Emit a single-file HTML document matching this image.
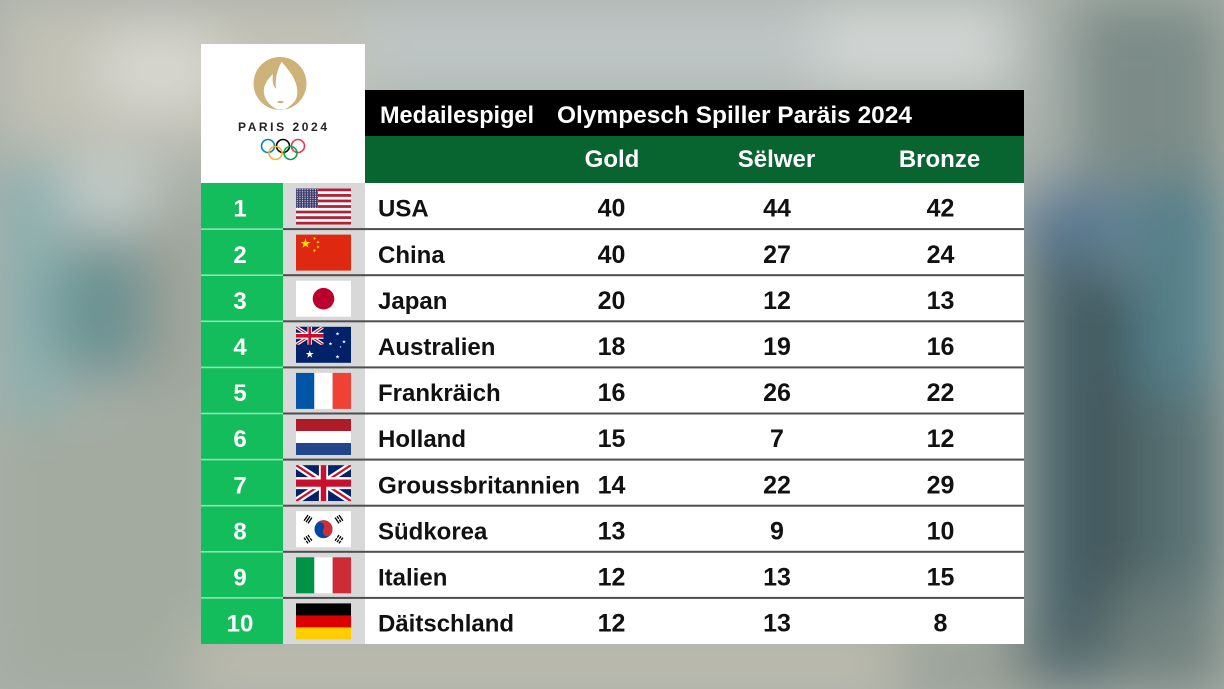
<!DOCTYPE html>
<html>
<head>
<meta charset="utf-8">
<style>
html,body{margin:0;padding:0;width:1224px;height:689px;overflow:hidden;}
body{background:#a9b0a9;}
svg{display:block;overflow:hidden;}
text{font-family:"Liberation Sans",Arial,sans-serif;}
</style>
</head>
<body>
<svg width="1224" height="689" viewBox="0 0 1224 689" xmlns="http://www.w3.org/2000/svg">
<defs>
  <filter id="blur" filterUnits="userSpaceOnUse" x="0" y="0" width="1224" height="689">
    <feGaussianBlur stdDeviation="28" edgeMode="duplicate"/>
  </filter>
  <polygon id="star" points="0,-1 0.2245,-0.309 0.951,-0.309 0.363,0.118 0.588,0.809 0,0.382 -0.588,0.809 -0.363,0.118 -0.951,-0.309 -0.2245,-0.309"/>
  <pattern id="usstars" x="0" y="0" width="2.6" height="2.2" patternUnits="userSpaceOnUse">
    <circle cx="1.3" cy="1.1" r="0.55" fill="#fff"/>
  </pattern>
  <g id="ukjack">
    <svg x="0" y="0" width="60" height="30" viewBox="0 0 60 30" preserveAspectRatio="none">
      <rect width="60" height="30" fill="#012169"/>
      <path d="M0,0 L60,30 M60,0 L0,30" stroke="#fff" stroke-width="6"/>
      <path d="M0,0 L60,30 M60,0 L0,30" stroke="#C8102E" stroke-width="2"/>
      <path d="M30,0 V30 M0,15 H60" stroke="#fff" stroke-width="10"/>
      <path d="M30,0 V30 M0,15 H60" stroke="#C8102E" stroke-width="6"/>
    </svg>
  </g>
</defs>

<!-- background -->
<rect x="0" y="0" width="1224" height="689" fill="#a9b0a9"/>
<g filter="url(#blur)">
  <rect x="0" y="0" width="1224" height="689" fill="#a9b0a9"/>
  <rect x="0" y="0" width="370" height="150" fill="#c2c1b5"/>
  <ellipse cx="160" cy="70" rx="70" ry="40" fill="#d8d8d2"/>
  <rect x="360" y="0" width="470" height="90" fill="#bec6c6"/>
  <rect x="820" y="0" width="200" height="90" fill="#d2d6d4"/>
  <rect x="1010" y="0" width="60" height="170" fill="#abb3ae"/>
  <rect x="1070" y="0" width="154" height="180" fill="#7b8b87"/>
  <ellipse cx="1075" cy="225" rx="65" ry="45" fill="#5c7b94"/>
  <rect x="1020" y="250" width="70" height="439" fill="#4c6870"/>
  <rect x="1085" y="270" width="45" height="419" fill="#3c4f53"/>
  <rect x="1130" y="180" width="94" height="210" fill="#55808a"/>
  <rect x="1130" y="390" width="94" height="200" fill="#577072"/>
  <rect x="1110" y="590" width="114" height="99" fill="#6f807d"/>
  <rect x="0" y="160" width="60" height="260" fill="#8ab0b0"/>
  <ellipse cx="110" cy="190" rx="50" ry="35" fill="#c3cdcb"/>
  <ellipse cx="105" cy="310" rx="55" ry="75" fill="#6a9292"/>
  <rect x="150" y="210" width="60" height="200" fill="#9ea398"/>
  <rect x="0" y="420" width="210" height="269" fill="#a3aa9f"/>
  <rect x="190" y="640" width="720" height="49" fill="#c1bdae"/>
  <rect x="900" y="640" width="130" height="49" fill="#949c92"/>
  <rect x="1020" y="640" width="90" height="49" fill="#5a6d70"/>
</g>

<!-- logo box -->
<rect x="201" y="44" width="164" height="139" fill="#ffffff"/>
<circle cx="280" cy="83.5" r="26.5" fill="#cdb27a"/>
<path d="M281.5,62 C291,72 299,83 297,96 C296,102 290,106 285,109.5 L277,109.5 C271,106 265,101 264,93 C263,85 268,79 273,74 C272,81 273,86 276,89 C275,79 277,70 281.5,62 Z" fill="#ffffff"/>
<ellipse cx="280.5" cy="102" rx="3.2" ry="1.3" fill="#cdb27a"/>
<text x="238" y="131" font-size="12" font-weight="bold" textLength="89" lengthAdjust="spacing" fill="#222222">PARIS 2024</text>
<g fill="none" stroke-width="1.6">
  <circle cx="268" cy="146" r="6.5" stroke="#0081c8"/>
  <circle cx="283" cy="146" r="6.5" stroke="#000000"/>
  <circle cx="298" cy="146" r="6.5" stroke="#ee334e"/>
  <circle cx="275.5" cy="153" r="6.5" stroke="#fcb131"/>
  <circle cx="290.5" cy="153" r="6.5" stroke="#00a651"/>
</g>

<!-- header -->
<rect x="365" y="90" width="659" height="46" fill="#000000"/>
<rect x="365" y="136" width="659" height="47" fill="#08652f"/>
<text x="380" y="123" font-size="24" font-weight="bold" fill="#ffffff" textLength="154" lengthAdjust="spacingAndGlyphs">Medailespigel</text>
<text x="557" y="123" font-size="24" font-weight="bold" fill="#ffffff" textLength="355" lengthAdjust="spacingAndGlyphs">Olympesch Spiller Paräis 2024</text>
<g font-size="24" font-weight="bold" fill="#ffffff" text-anchor="middle">
  <text x="612" y="167">Gold</text>
  <text x="776.5" y="167">Sëlwer</text>
  <text x="939.5" y="167">Bronze</text>
</g>

<!-- body columns -->
<rect x="201" y="183" width="82" height="461" fill="#14bd5c"/>
<rect x="283" y="183" width="82" height="461" fill="#d8d8d8"/>
<rect x="365" y="183" width="659" height="461" fill="#ffffff"/>

<!-- separators -->
<g fill="#4d4d4d">
  <rect x="283" y="228.1" width="741" height="2"/>
  <rect x="283" y="274.2" width="741" height="2"/>
  <rect x="283" y="320.3" width="741" height="2"/>
  <rect x="283" y="366.4" width="741" height="2"/>
  <rect x="283" y="412.5" width="741" height="2"/>
  <rect x="283" y="458.6" width="741" height="2"/>
  <rect x="283" y="504.7" width="741" height="2"/>
  <rect x="283" y="550.8" width="741" height="2"/>
  <rect x="283" y="596.9" width="741" height="2"/>
</g>
<g fill="#8fe2b2">
  <rect x="201" y="228.3" width="82" height="1.6"/>
  <rect x="201" y="274.4" width="82" height="1.6"/>
  <rect x="201" y="320.5" width="82" height="1.6"/>
  <rect x="201" y="366.6" width="82" height="1.6"/>
  <rect x="201" y="412.7" width="82" height="1.6"/>
  <rect x="201" y="458.8" width="82" height="1.6"/>
  <rect x="201" y="504.9" width="82" height="1.6"/>
  <rect x="201" y="551.0" width="82" height="1.6"/>
  <rect x="201" y="597.1" width="82" height="1.6"/>
</g>

<!-- rank numbers -->
<g font-size="24" font-weight="bold" fill="#ffffff" text-anchor="middle">
  <text x="240" y="216.7">1</text>
  <text x="240" y="262.8">2</text>
  <text x="240" y="308.9">3</text>
  <text x="240" y="355.0">4</text>
  <text x="240" y="401.1">5</text>
  <text x="240" y="447.2">6</text>
  <text x="240" y="493.3">7</text>
  <text x="240" y="539.4">8</text>
  <text x="240" y="585.5">9</text>
  <text x="240" y="631.6">10</text>
</g>

<!-- country names -->
<g font-size="24" font-weight="bold" fill="#111111">
  <text x="378" y="216.7">USA</text>
  <text x="378" y="262.8">China</text>
  <text x="378" y="308.9">Japan</text>
  <text x="378" y="355.0">Australien</text>
  <text x="378" y="401.1">Frankräich</text>
  <text x="378" y="447.2">Holland</text>
  <text x="378" y="493.3" textLength="202" lengthAdjust="spacingAndGlyphs">Groussbritannien</text>
  <text x="378" y="539.4">Südkorea</text>
  <text x="378" y="585.5">Italien</text>
  <text x="378" y="631.6">Däitschland</text>
</g>

<!-- numbers -->
<g font-size="25" font-weight="bold" fill="#111111" text-anchor="middle">
  <text x="611.5" y="216.7">40</text><text x="777" y="216.7">44</text><text x="940.5" y="216.7">42</text>
  <text x="611.5" y="262.8">40</text><text x="777" y="262.8">27</text><text x="940.5" y="262.8">24</text>
  <text x="611.5" y="308.9">20</text><text x="777" y="308.9">12</text><text x="940.5" y="308.9">13</text>
  <text x="611.5" y="355.0">18</text><text x="777" y="355.0">19</text><text x="940.5" y="355.0">16</text>
  <text x="611.5" y="401.1">16</text><text x="777" y="401.1">26</text><text x="940.5" y="401.1">22</text>
  <text x="611.5" y="447.2">15</text><text x="777" y="447.2">7</text><text x="940.5" y="447.2">12</text>
  <text x="611.5" y="493.3">14</text><text x="777" y="493.3">22</text><text x="940.5" y="493.3">29</text>
  <text x="611.5" y="539.4">13</text><text x="777" y="539.4">9</text><text x="940.5" y="539.4">10</text>
  <text x="611.5" y="585.5">12</text><text x="777" y="585.5">13</text><text x="940.5" y="585.5">15</text>
  <text x="611.5" y="631.6">12</text><text x="777" y="631.6">13</text><text x="940.5" y="631.6">8</text>
</g>

<!-- flags -->
<!-- USA -->
<g transform="translate(296,188.5)">
  <rect width="55" height="36" fill="#ffffff"/>
  <g fill="#b22234">
    <rect y="0" width="55" height="2.77"/>
    <rect y="5.54" width="55" height="2.77"/>
    <rect y="11.08" width="55" height="2.77"/>
    <rect y="16.62" width="55" height="2.77"/>
    <rect y="22.15" width="55" height="2.77"/>
    <rect y="27.69" width="55" height="2.77"/>
    <rect y="33.23" width="55" height="2.77"/>
  </g>
  <rect width="22" height="19.4" fill="#3c3b6e"/>
  <rect width="22" height="19.4" fill="url(#usstars)"/>
</g>
<!-- China -->
<g transform="translate(296,234.6)">
  <rect width="55" height="36" fill="#de2910"/>
  <g fill="#ffde00">
    <use href="#star" transform="translate(9.5,9) scale(5.2)"/>
    <use href="#star" transform="translate(18.5,3.8) scale(1.8) rotate(20)"/>
    <use href="#star" transform="translate(22,7.5) scale(1.8) rotate(45)"/>
    <use href="#star" transform="translate(22,12.5) scale(1.8)"/>
    <use href="#star" transform="translate(18.5,16) scale(1.8) rotate(20)"/>
  </g>
</g>
<!-- Japan -->
<g transform="translate(296,280.7)">
  <rect width="55" height="36" fill="#ffffff"/>
  <circle cx="27.5" cy="18" r="10.8" fill="#bc002d"/>
</g>
<!-- Australia -->
<g transform="translate(296,326.8)">
  <rect width="55" height="36" fill="#012169"/>
  <g transform="scale(0.4583,0.6)"><use href="#ukjack"/></g>
  <g fill="#ffffff">
    <use href="#star" transform="translate(13.75,27.5) scale(4.2)"/>
    <use href="#star" transform="translate(41.5,30) scale(2.2)"/>
    <use href="#star" transform="translate(34.5,17) scale(2)"/>
    <use href="#star" transform="translate(41.5,7) scale(2)"/>
    <use href="#star" transform="translate(48,15) scale(2)"/>
    <use href="#star" transform="translate(44.5,20) scale(1.1)"/>
  </g>
</g>
<!-- France -->
<g transform="translate(296,372.9)">
  <rect width="18.4" height="36" fill="#0055a4"/>
  <rect x="18.3" width="18.4" height="36" fill="#ffffff"/>
  <rect x="36.6" width="18.4" height="36" fill="#ef4135"/>
</g>
<!-- Netherlands -->
<g transform="translate(296,419.0)">
  <rect width="55" height="12.1" fill="#ae1c28"/>
  <rect y="12" width="55" height="12.1" fill="#ffffff"/>
  <rect y="24" width="55" height="12" fill="#21468b"/>
</g>
<!-- UK -->
<g transform="translate(296,465.1)">
  <g transform="scale(0.9167,1.2)"><use href="#ukjack"/></g>
</g>
<!-- South Korea -->
<g transform="translate(296,511.2)">
  <rect width="55" height="36" fill="#ffffff"/>
  <g transform="translate(27.5,18) rotate(33.7)">
    <circle r="9" fill="#0047a0"/>
    <path d="M-9,0 A9,9 0 0 1 9,0 A4.5,4.5 0 0 1 0,0 A4.5,4.5 0 0 0 -9,0 Z" fill="#cd2e3a"/>
  </g>
  <g fill="#000000">
    <g transform="translate(12,8) rotate(-56)"><rect x="-3.5" y="-3" width="7" height="1.3"/><rect x="-3.5" y="-0.65" width="7" height="1.3"/><rect x="-3.5" y="1.7" width="7" height="1.3"/></g>
    <g transform="translate(43,8) rotate(56)"><rect x="-3.5" y="-3" width="7" height="1.3"/><rect x="-3.5" y="-0.65" width="3" height="1.3"/><rect x="0.5" y="-0.65" width="3" height="1.3"/><rect x="-3.5" y="1.7" width="7" height="1.3"/></g>
    <g transform="translate(12,28) rotate(56)"><rect x="-3.5" y="-3" width="3" height="1.3"/><rect x="0.5" y="-3" width="3" height="1.3"/><rect x="-3.5" y="-0.65" width="7" height="1.3"/><rect x="-3.5" y="1.7" width="3" height="1.3"/><rect x="0.5" y="1.7" width="3" height="1.3"/></g>
    <g transform="translate(43,28) rotate(-56)"><rect x="-3.5" y="-3" width="3" height="1.3"/><rect x="0.5" y="-3" width="3" height="1.3"/><rect x="-3.5" y="-0.65" width="3" height="1.3"/><rect x="0.5" y="-0.65" width="3" height="1.3"/><rect x="-3.5" y="1.7" width="3" height="1.3"/><rect x="0.5" y="1.7" width="3" height="1.3"/></g>
  </g>
</g>
<!-- Italy -->
<g transform="translate(296,557.3)">
  <rect width="18.4" height="36" fill="#009246"/>
  <rect x="18.3" width="18.4" height="36" fill="#ffffff"/>
  <rect x="36.6" width="18.4" height="36" fill="#ce2b37"/>
</g>
<!-- Germany -->
<g transform="translate(296,603.4)">
  <rect width="55" height="12.1" fill="#000000"/>
  <rect y="12" width="55" height="12.1" fill="#dd0000"/>
  <rect y="24" width="55" height="12" fill="#ffce00"/>
</g>
</svg>
</body>
</html>
